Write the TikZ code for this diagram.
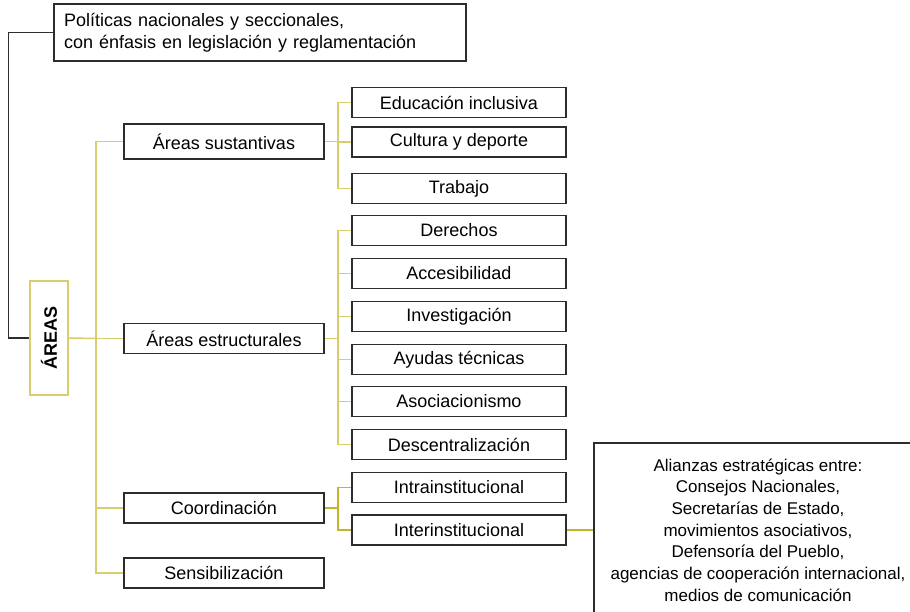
\documentclass[tikz,border=0pt]{standalone}
\usepackage{fontspec}
\setmainfont{Liberation Sans}
\usetikzlibrary{positioning}
\definecolor{amarillo}{RGB}{218,205,110}
\definecolor{amarillofuerte}{RGB}{198,180,40}
\definecolor{borde}{RGB}{45,45,45}
\tikzset{
  caja/.style={draw=borde,line width=1.5,inner sep=0,minimum height=30,font=\fontsize{18}{21.7}\selectfont},
  cajaizq/.style={caja,minimum width=200},
  cajader/.style={caja,minimum width=214},
  enlace/.style={draw=amarillo,line width=1.5},
}
\begin{document}
\begin{tikzpicture}[x=1pt,y=-1pt]
  \useasboundingbox (0,0) rectangle (910,611);
  \node[caja,text width=392,inner xsep=10,minimum height=57,align=left] (politicas) at (260,32.5) {Políticas nacionales y seccionales,\\con énfasis en legislación y reglamentación};
  \node[draw=amarillo,line width=1.5,minimum width=114,minimum height=38,rotate=90,font=\fontsize{18}{20}\selectfont\bfseries] (areas) at (49,338) {ÁREAS};
  % columna central
  \node[cajaizq,minimum height=35] (sust) at (224,141.5) {Áreas sustantivas};
  \node[cajaizq] (estr) at (224,338.5) {Áreas estructurales};
  \node[cajaizq] (coord) at (224,508) {Coordinación};
  \node[cajaizq] (sens) at (224,573) {Sensibilización};
  % columna derecha
  \node[cajader] (educ) at (459,102.5) {Educación inclusiva};
  \node[cajader] (cult) at (459,142) {Cultura y deporte};
  \node[cajader] (trab) at (459,188.5) {Trabajo};
  \node[cajader] (der) at (459,230.5) {Derechos};
  \node[cajader] (acc) at (459,273.5) {Accesibilidad};
  \node[cajader] (inv) at (459,316.5) {Investigación};
  \node[cajader] (ayu) at (459,359.5) {Ayudas técnicas};
  \node[cajader] (aso) at (459,401.5) {Asociacionismo};
  \node[cajader] (desc) at (459,444.5) {Descentralización};
  \node[cajader] (intra) at (459,487.5) {Intrainstitucional};
  \node[cajader] (inter) at (459,530) {Interinstitucional};
  \node[caja,minimum width=328,minimum height=174,align=center,font=\fontsize{17}{21.7}\selectfont] (alianzas) at (758,530) {Alianzas estratégicas entre:\\Consejos Nacionales,\\Secretarías de Estado,\\movimientos asociativos,\\Defensoría del Pueblo,\\agencias de cooperación internacional,\\medios de comunicación};
  % enlaces
  \draw[draw=borde,line width=1.5] (politicas.west) -- ++(-45,0) |- (areas.north);
  \coordinate (tronco) at (96,338.5);
  \draw[enlace] (areas.south) -- (tronco);
  \foreach \n in {sust,estr,coord,sens} \draw[enlace] (tronco) |- (\n.west);
  \coordinate (rsust) at (338,141.5);
  \draw[enlace] (sust.east) -- (rsust);
  \foreach \n in {educ,cult,trab} \draw[enlace] (rsust) |- (\n.west);
  \coordinate (restr) at (338,338.5);
  \draw[enlace] (estr.east) -- (restr);
  \foreach \n in {der,acc,inv,ayu,aso,desc} \draw[enlace] (restr) |- (\n.west);
  \coordinate (rcoord) at (338,508);
  \draw[enlace,draw=amarillofuerte] (coord.east) -- (rcoord);
  \foreach \n in {intra,inter} \draw[enlace,draw=amarillofuerte] (rcoord) |- (\n.west);
  \draw[enlace,draw=amarillofuerte] (inter.east) -- (alianzas.west |- inter.east);
\end{tikzpicture}
\end{document}
